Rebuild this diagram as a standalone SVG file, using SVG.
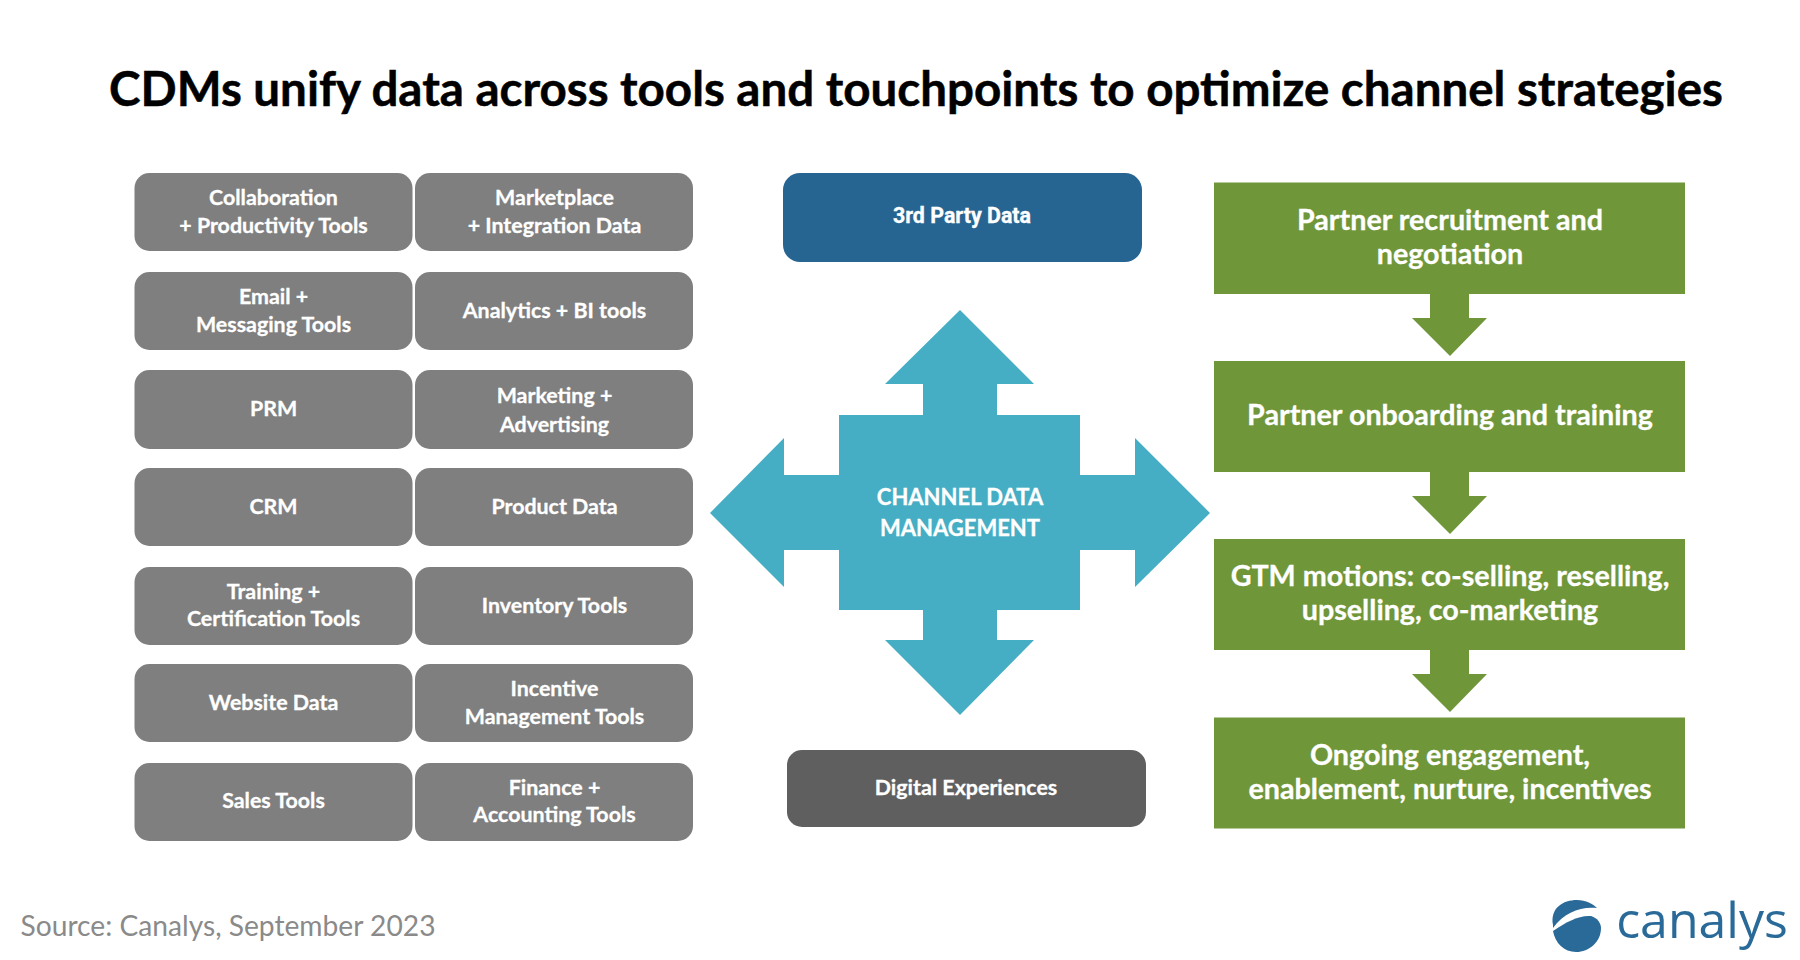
<svg xmlns="http://www.w3.org/2000/svg" width="1800" height="960" viewBox="0 0 1800 960">
<style>
text{font-family:Lato,"Liberation Sans",sans-serif;text-anchor:middle}
.t{font-weight:700;fill:#000;stroke:#000;stroke-width:.5px;font-size:47.5px}
.g rect{fill:#7f7f7f}
.g text,.w{font-weight:700;fill:#fff;stroke:#fff;stroke-width:.3px;font-size:21.4px}
.s rect{fill:#70963a}
.s text{font-weight:700;fill:#fff;stroke:#fff;stroke-width:.3px;font-size:28.7px}
.a{fill:#70963a}
.c{font-size:22px}
</style>
<rect width="1800" height="960" fill="#fff"/>
<text id="title" class="t" x="916" y="105.500">CDMs unify data across tools and touchpoints to optimize channel strategies</text>

<g id="n1" class="g"><rect x="134.500" y="173" width="278" height="78" rx="15"/><text x="273.500" y="205">Collaboration</text><text x="273.500" y="233">+ Productivity Tools</text></g>
<g id="n2" class="g"><rect x="415" y="173" width="278" height="78" rx="15"/><text x="554.500" y="205">Marketplace</text><text x="554.500" y="233">+ Integration Data</text></g>
<g id="n3" class="g"><rect x="134.500" y="272" width="278" height="78" rx="15"/><text x="273.500" y="304">Email +</text><text x="273.500" y="332">Messaging Tools</text></g>
<g id="n4" class="g"><rect x="415" y="272" width="278" height="78" rx="15"/><text x="554.500" y="317.500">Analytics + BI tools</text></g>
<g id="n5" class="g"><rect x="134.500" y="370" width="278" height="79" rx="15"/><text x="273.500" y="416">PRM</text></g>
<g id="n6" class="g"><rect x="415" y="370" width="278" height="79" rx="15"/><text x="554.500" y="402.500">Marketing +</text><text x="554.500" y="431.500">Advertising</text></g>
<g id="n7" class="g"><rect x="134.500" y="468" width="278" height="78" rx="15"/><text x="273.500" y="513.500">CRM</text></g>
<g id="n8" class="g"><rect x="415" y="468" width="278" height="78" rx="15"/><text x="554.500" y="513.500">Product Data</text></g>
<g id="n9" class="g"><rect x="134.500" y="567" width="278" height="78" rx="15"/><text x="273.500" y="598.500">Training +</text><text x="273.500" y="626">Certification Tools</text></g>
<g id="n10" class="g"><rect x="415" y="567" width="278" height="78" rx="15"/><text x="554.500" y="612.500">Inventory Tools</text></g>
<g id="n11" class="g"><rect x="134.500" y="664" width="278" height="78" rx="15"/><text x="273.500" y="709.500">Website Data</text></g>
<g id="n12" class="g"><rect x="415" y="664" width="278" height="78" rx="15"/><text x="554.500" y="696">Incentive</text><text x="554.500" y="724">Management Tools</text></g>
<g id="n13" class="g"><rect x="134.500" y="763" width="278" height="78" rx="15"/><text x="273.500" y="808">Sales Tools</text></g>
<g id="n14" class="g"><rect x="415" y="763" width="278" height="78" rx="15"/><text x="554.500" y="794.500">Finance +</text><text x="554.500" y="821.500">Accounting Tools</text></g>

<g id="third-party"><rect x="783" y="173" width="359" height="89" rx="17" fill="#266592"/><text class="w" x="962" y="223" style="font-family:Roboto,sans-serif">3rd Party Data</text></g>
<g id="digital"><rect x="787" y="750" width="359" height="77" rx="15" fill="#5f5f5f"/><text class="w" x="966" y="795">Digital Experiences</text></g>

<g id="cdm">
<polygon fill="#45aec4" points="960,310 1034,384 997,384 997,415 1080,415 1080,475 1135,475 1135,438 1210,513 1135,587 1135,550 1080,550 1080,610 997,610 997,640 1034,640 960,715 885,640 923,640 923,610 839,610 839,550 784,550 784,587 710,513 784,438 784,475 839,475 839,415 923,415 923,384 885,384"/>
<text class="w c" x="960" y="504.500">CHANNEL DATA</text><text class="w c" x="960" y="535.500">MANAGEMENT</text>
</g>

<g id="connectors">
<polygon class="a" points="1430,294 1469,294 1469,318 1487,318 1450,356 1412,318 1430,318"/>
<polygon class="a" points="1430,472 1469,472 1469,496 1487,496 1450,534 1412,496 1430,496"/>
<polygon class="a" points="1430,650 1469,650 1469,674 1487,674 1450,712 1412,674 1430,674"/>
</g>

<g id="s1" class="s"><rect x="1214" y="182.500" width="471" height="111.500"/><text x="1450" y="230">Partner recruitment and</text><text x="1450" y="264">negotiation</text></g>
<g id="s2" class="s"><rect x="1214" y="361" width="471" height="111"/><text x="1450" y="425">Partner onboarding and training</text></g>
<g id="s3" class="s"><rect x="1214" y="539" width="471" height="111"/><text x="1450" y="586">GTM motions: co-selling, reselling,</text><text x="1450" y="620">upselling, co-marketing</text></g>
<g id="s4" class="s"><rect x="1214" y="717.500" width="471" height="111"/><text x="1450" y="765">Ongoing engagement,</text><text x="1450" y="799">enablement, nurture, incentives</text></g>

<text id="source" x="228" y="936" style="font-size:28.2px;fill:#8a8a8a">Source: Canalys, September 2023</text>
<g id="logo" fill="#2a6a99">
<path d="M1553,925C1550,908 1563,900 1577,900C1586,900 1593,904 1597,908C1582,906 1564,912 1553,928Z"/>
<path d="M1553,931C1566,922 1579,915 1591,916C1598,918 1601,924 1601,928C1601,942 1589,952 1576,952C1564,952 1555,943 1553,931Z"/>
<text x="1702" y="938" style="font-family:'Open Sans',sans-serif;font-size:50px">canalys</text>
</g>
</svg>
